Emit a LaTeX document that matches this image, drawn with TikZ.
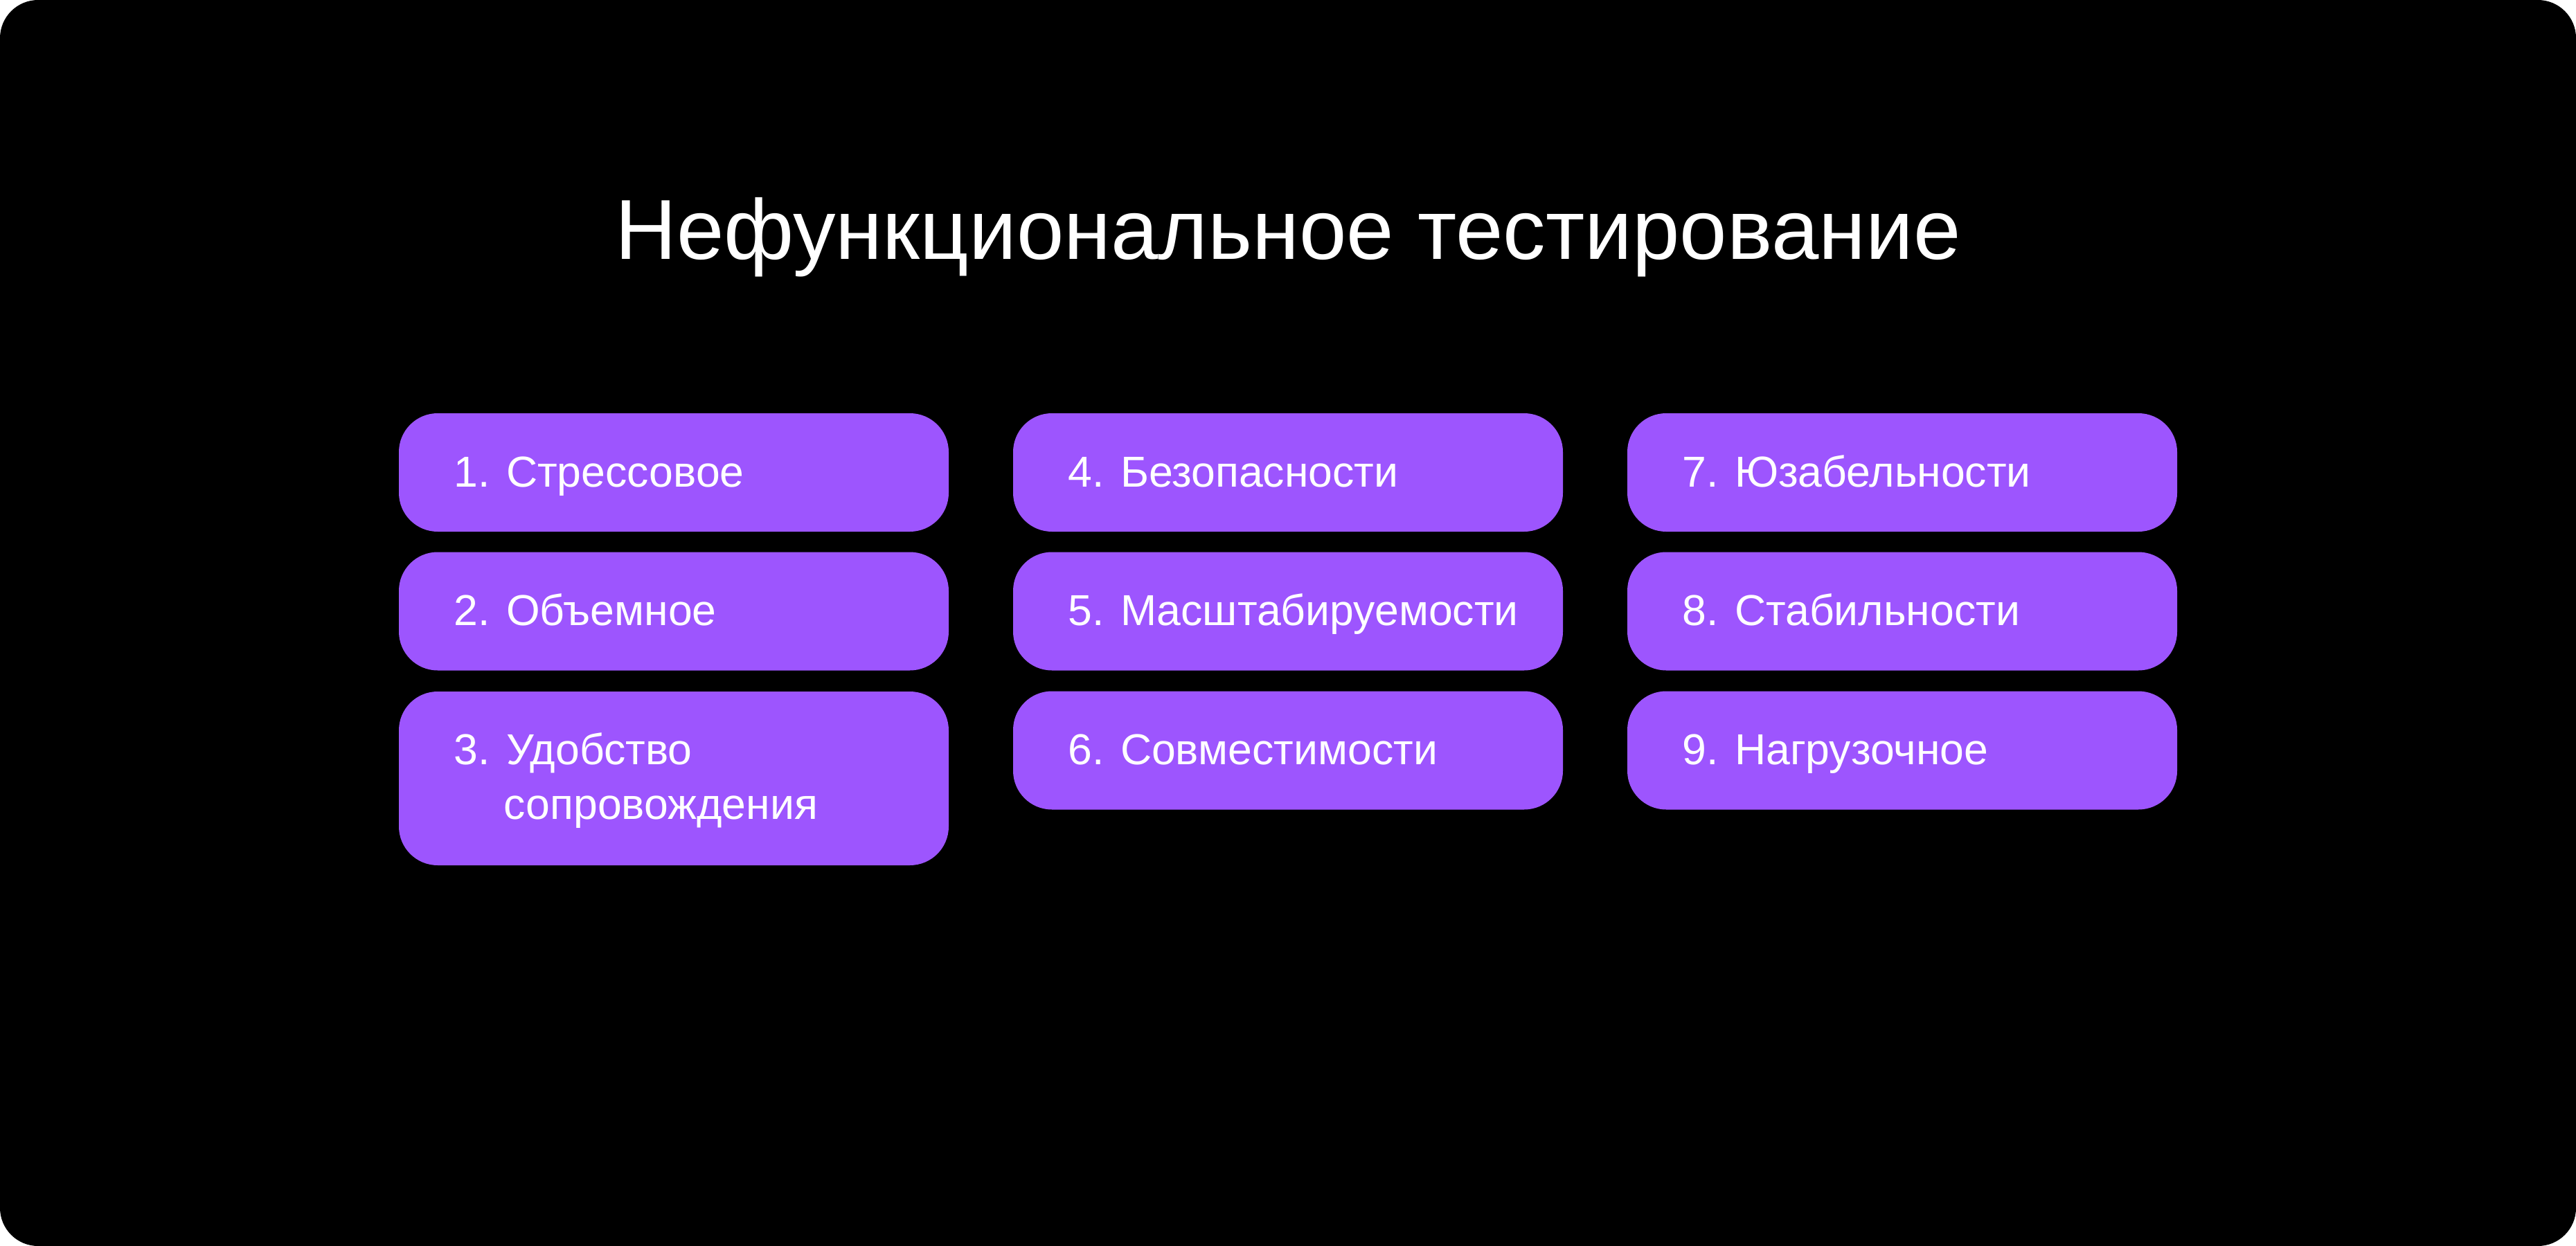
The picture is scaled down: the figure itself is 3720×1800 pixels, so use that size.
\documentclass[tikz,border=0pt]{standalone}
\usepackage{fontspec}
\setmainfont{Liberation Sans}
\definecolor{bgpurple}{HTML}{9D55FE}
\begin{document}
\begin{tikzpicture}[x=0.1mm,y=-0.1mm,
  box/.style={fill=bgpurple, draw=none, rounded corners=5.6mm, minimum width=79.4mm, inner sep=0pt},
  lbl/.style={text=white, anchor=base west, inner sep=0pt, font=\fontsize{17.8pt}{22.5pt}\selectfont, align=left},
  ttl/.style={text=white, anchor=base, inner sep=0pt, font=\fontsize{35pt}{40pt}\selectfont}]
\fill[white] (0,0) rectangle (3720,1800);
\fill[black, rounded corners=5.5mm] (0,0) rectangle (3720,1800);
\useasboundingbox (0,0) rectangle (3720,1800);
\node[ttl] (title) at (1860,375) {Нефункциональное тестирование};
% column 1
\node[box, minimum height=17.1mm] (b1) at (973,682.5) {};
\node[box, minimum height=17.1mm] (b2) at (973,883) {};
\node[box, minimum height=25.1mm] (b3) at (973,1124.5) {};
% column 2
\node[box, minimum height=17.1mm] (b4) at (1860,682.5) {};
\node[box, minimum height=17.1mm] (b5) at (1860,883) {};
\node[box, minimum height=17.1mm] (b6) at (1860,1084) {};
% column 3
\node[box, minimum height=17.1mm] (b7) at (2747,682.5) {};
\node[box, minimum height=17.1mm] (b8) at (2747,883) {};
\node[box, minimum height=17.1mm] (b9) at (2747,1084) {};
% labels
\node[lbl] (t1) at (655,703) {1. Стрессовое};
\node[lbl] (t2) at (655,903) {2. Объемное};
\node[lbl] (t3) at (655,1104) {3. Удобство};
\node[lbl] (t3b) at (727,1183) {сопровождения};
\node[lbl] (t4) at (1542,703) {4. Безопасности};
\node[lbl] (t5) at (1542,903) {5. Масштабируемости};
\node[lbl] (t6) at (1542,1104) {6. Совместимости};
\node[lbl] (t7) at (2429,703) {7. Юзабельности};
\node[lbl] (t8) at (2429,903) {8. Стабильности};
\node[lbl] (t9) at (2429,1104) {9. Нагрузочное};
\end{tikzpicture}
\end{document}
